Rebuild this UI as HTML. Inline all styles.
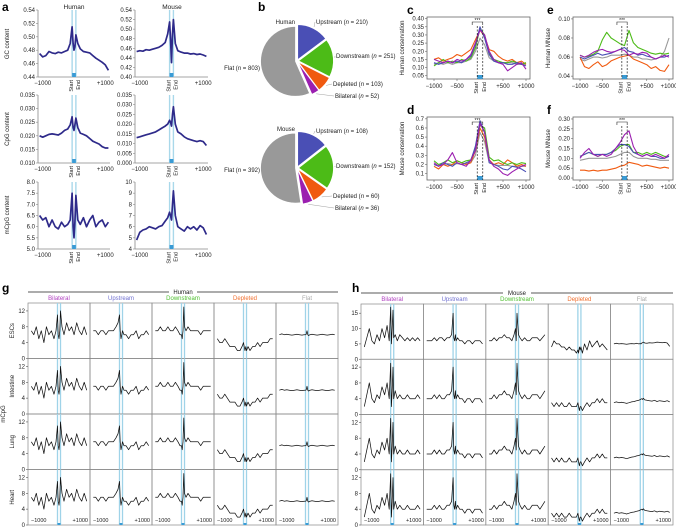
<!DOCTYPE html>
<html><head><meta charset="utf-8"><style>
html,body{margin:0;padding:0;background:#fff}
svg{display:block;font-family:"Liberation Sans",sans-serif}
</style></head><body>
<svg id="fig" width="676" height="527" viewBox="0 0 676 527" xmlns="http://www.w3.org/2000/svg"></svg>
<script>
// ---------- DATA ----------
const xsA = [-1100,-1000,-900,-800,-700,-600,-500,-400,-300,-200,-120,-60,-30,0,30,60,120,200,300,400,500,600,700,800,900,1000,1100];
const gcHuman = [0.475,0.470,0.472,0.478,0.476,0.475,0.477,0.476,0.478,0.480,0.490,0.515,0.490,0.480,0.485,0.503,0.490,0.482,0.478,0.477,0.476,0.472,0.468,0.465,0.462,0.458,0.450];
const gcMouse = [0.453,0.455,0.454,0.457,0.456,0.458,0.460,0.462,0.466,0.472,0.490,0.515,0.480,0.430,0.490,0.520,0.470,0.455,0.452,0.450,0.450,0.448,0.449,0.447,0.448,0.446,0.443];
const cpgHuman = [0.020,0.0195,0.020,0.0205,0.0207,0.0205,0.0203,0.021,0.022,0.0225,0.024,0.027,0.023,0.022,0.024,0.0265,0.023,0.021,0.0205,0.020,0.019,0.018,0.0175,0.017,0.016,0.0155,0.0155];
const cpgMouse = [0.013,0.0135,0.014,0.0145,0.015,0.0155,0.016,0.017,0.018,0.019,0.020,0.022,0.021,0.019,0.025,0.029,0.020,0.016,0.015,0.0135,0.0125,0.012,0.0115,0.011,0.0115,0.011,0.009];
const mcpgHuman = [6.5,6.3,6.4,6.0,6.3,6.0,5.9,6.2,6.0,6.1,6.3,7.5,6.0,5.5,6.2,7.4,6.3,6.1,6.4,6.0,6.3,6.5,6.0,6.2,6.3,6.0,6.2];
const mcpgMouse = [4.8,5.5,5.7,5.8,6.0,5.9,5.8,6.0,6.1,6.5,6.8,7.3,7.0,6.6,8.0,9.2,7.0,6.0,5.8,5.6,6.0,5.8,6.0,5.7,6.1,5.9,5.3];

const classes = ['Bilateral','Upstream','Downstream','Depleted','Flat'];
const classColors = ['#9b1fb0','#4a4fb5','#4cbb17','#f05a10','#999999'];
const titleColors = ['#b040c0','#7070d0','#50c030','#f07030','#aaaaaa'];
const pieHuman = [210,251,103,52,803];
const pieMouse = [108,152,60,36,392];
const pieNames = ['Upstream','Downstream','Depleted','Bilateral','Flat'];
const pieColors = ['#4a4fb5','#4cbb17','#f05a10','#9b1fb0','#999999'];

const xsC = [-1000,-900,-800,-700,-600,-500,-400,-300,-200,-100,0,100,200,300,400,500,600,700,800,900,1000];
const consHuman = [
 [.15,.14,.13,.14,.13,.15,.14,.15,.18,.25,.33,.30,.20,.15,.13,.12,.08,.10,.12,.13,.09],
 [.13,.12,.13,.14,.13,.14,.13,.15,.17,.24,.35,.28,.18,.14,.13,.13,.12,.12,.13,.12,.11],
 [.11,.13,.15,.13,.14,.13,.15,.14,.16,.22,.34,.30,.19,.15,.14,.13,.13,.14,.13,.12,.13],
 [.15,.16,.14,.15,.16,.18,.17,.19,.21,.27,.33,.29,.21,.20,.17,.15,.14,.15,.13,.14,.12],
 [.12,.13,.12,.13,.12,.13,.13,.14,.15,.20,.28,.24,.16,.14,.13,.13,.13,.13,.12,.12,.12]];
const consMouse = [
 [.22,.18,.20,.25,.33,.22,.20,.18,.25,.35,.65,.55,.25,.18,.15,.10,.08,.12,.15,.18,.20],
 [.20,.18,.22,.20,.18,.22,.20,.22,.24,.40,.68,.55,.22,.20,.18,.15,.14,.18,.17,.15,.12],
 [.24,.20,.22,.25,.22,.24,.22,.24,.25,.38,.63,.60,.28,.24,.25,.22,.20,.22,.20,.22,.21],
 [.18,.15,.20,.18,.20,.24,.22,.20,.22,.35,.60,.50,.25,.20,.22,.20,.25,.22,.18,.20,.18],
 [.20,.19,.20,.21,.20,.21,.20,.21,.22,.30,.55,.45,.22,.20,.19,.19,.19,.18,.18,.18,.18]];
const mnaseHuman = [
 [.062,.060,.062,.065,.067,.068,.066,.065,.066,.068,.067,.062,.064,.063,.065,.064,.060,.058,.060,.062,.060],
 [.060,.058,.060,.062,.064,.062,.063,.064,.066,.068,.070,.066,.065,.062,.063,.061,.060,.058,.060,.060,.062],
 [.062,.060,.061,.063,.066,.078,.086,.080,.077,.074,.072,.088,.075,.070,.068,.066,.064,.063,.064,.063,.064],
 [.060,.050,.048,.052,.055,.050,.052,.056,.058,.060,.061,.062,.058,.056,.054,.052,.048,.050,.046,.045,.052],
 [.058,.056,.058,.060,.060,.059,.060,.062,.062,.062,.063,.062,.060,.060,.058,.058,.057,.058,.060,.066,.080]];
const mnaseMouse = [
 [.10,.13,.15,.12,.11,.12,.11,.12,.15,.18,.22,.24,.16,.12,.11,.12,.11,.12,.11,.10,.12],
 [.11,.12,.13,.12,.12,.12,.12,.13,.15,.17,.17,.16,.13,.12,.11,.12,.11,.11,.10,.10,.11],
 [.11,.12,.13,.12,.11,.12,.12,.13,.14,.16,.17,.17,.13,.13,.12,.13,.12,.13,.12,.11,.11],
 [.04,.04,.035,.04,.035,.04,.04,.045,.05,.06,.065,.08,.075,.07,.06,.065,.06,.055,.05,.055,.05],
 [.09,.095,.10,.10,.10,.10,.10,.105,.11,.12,.13,.13,.11,.10,.10,.10,.095,.095,.09,.09,.09]];

const gHuman = [
 [7,6,8,5,7,4,8,6,7,5,7,11,6,5,7,12,8,6,9,7,8,6,9,7,6,8,6],
 [7,7,6,7,7,6,7,7,7,8,9,11,7,5,6,7,6,6,5,6,6,7,5,6,6,7,6],
 [7,7,8,7,7,8,7,7,8,7,6,6,5,7,13,8,7,8,7,7,7,7,6,7,7,7,7],
 [5,4,4,5,4,3,3,3,2,2,3,4,3,2,3,2,3,2,3,3,4,3,4,4,4,5,5],
 [6,6.2,6,6.1,6,5.9,6,6.1,6,5.9,6,6,6.1,7,6,5.8,6,6.1,6,5.9,6,6.1,6,5.9,6,6.1,6]];
const hMouseRow1 = [
 [4,7,10,6,5,8,6,10,7,11,6,17,5,10,16,7,8,6,8,7,6,7,6,7,6,7,6],
 [6,6,6,7,6,7,7,6,7,7,8,15,7,6,8,6,7,6,6,5,6,6,5,6,6,6,5],
 [6,6,7,6,7,7,8,7,7,6,8,10,6,15,11,8,7,6,7,6,6,7,7,7,6,7,8],
 [4,6,5,5,4,4,3,4,3,3,2,3,2,4,3,4,2,5,3,6,4,5,6,4,5,4,3],
 [5,5.2,5,5.1,5,4.9,5,5.1,5,5.2,5,5.1,5,5.3,5.4,5.6,5.3,5.2,5.4,5.3,5.4,5.6,5.5,5.4,5.5,5.3,4.2]];
const hMouseRows = [
 [2,5,8,4,3,5,4,7,5,8,4,13,2,6,12,4,6,4,5,4,4,5,4,4,4,5,4],
 [4,4,4,5,4,5,4,4,5,5,6,12,5,4,6,4,5,4,4,3,4,4,3,4,4,4,3],
 [4,4,5,4,5,5,6,5,5,4,6,8,5,13,9,6,5,4,5,4,4,5,5,5,4,5,6],
 [3,2,3,2,3,2,2,3,2,2,2,3,2,1,2,2,1,2,3,2,3,3,4,3,4,3,3],
 [3,3.2,3,3.1,3,2.8,3,3.2,3.3,3.5,3.6,3.8,3.9,4,3.8,4.1,3.7,3.6,3.5,3.4,3.6,3.3,3.5,3.4,3.3,3.5,3.2]];
const tissues = ['ESCs','Intestine','Lung','Heart'];

// ---------- HELPERS ----------
const NS='http://www.w3.org/2000/svg';
const svg=document.getElementById('fig');
function mk(tag,attrs,parent){const e=document.createElementNS(NS,tag);for(const k in attrs)e.setAttribute(k,attrs[k]);(parent||svg).appendChild(e);return e;}
function txt(x,y,s,size,name,extra){
  const t=mk('text',Object.assign({x:x,y:y,'font-size':size,fill:'#222'},extra||{}));
  t.textContent=s;
  
  
  return t;
}
function ln(x1,y1,x2,y2,stroke,w,name,extra){
  const l=mk('line',Object.assign({x1:x1,y1:y1,x2:x2,y2:y2,stroke:stroke,'stroke-width':w},extra||{}));
  
  
  return l;
}
function series(xs,vals,sx,sy,color,w,name){
  let d='';
  for(let i=0;i<vals.length;i++){d+=(i?'L':'M')+sx(xs[i]).toFixed(1)+','+sy(vals[i]).toFixed(1);}
  const p=mk('path',{d:d,fill:'none',stroke:color,'stroke-width':w,'stroke-linejoin':'round'});
  
  
  return p;
}
function scale(d0,d1,r0,r1){return v=>r0+(v-d0)/(d1-d0)*(r1-r0);}

// ---------- PANEL LETTERS ----------
[['a',2,11],['b',258,11],['c',407,14],['e',547,14],['d',407,114],['f',547,114],['g',2,292],['h',352,292]].forEach(p=>{
  txt(p[1],p[2],p[0],12,'panel-letter-'+p[0],{'font-weight':'bold',fill:'#000'});
});

// ---------- PANEL A ----------
function plotA(x0,y0,w,h,ymin,ymax,ticks,dec,vals,name){
  const sx=scale(-1150,1150,x0,x0+w), sy=scale(ymin,ymax,y0+h,y0);
  ln(x0,y0,x0,y0+h,'#888',0.8,name+'-y-axis');
  ln(x0,y0+h,x0+w,y0+h,'#888',0.8,name+'-x-axis');
  ticks.forEach(t=>{ln(x0-2,sy(t),x0,sy(t),'#888',0.6,name+'-y-tick');txt(x0-3,sy(t)+2,t.toFixed(dec),6,name+'-y-tick-label',{'text-anchor':'end'});});
  ln(sx(-60),y0,sx(-60),y0+h,'#a9d8ea',1.4,name+'-start-line');
  ln(sx(60),y0,sx(60),y0+h,'#a9d8ea',1.4,name+'-end-line');
  const r=mk('rect',{x:sx(-60),y:y0+h-4,width:sx(60)-sx(-60),height:4,fill:'#3a9bd5'});
  
  
  txt(sx(-1000),y0+h+8,'\u22121000',6,name+'-x-tick-label',{'text-anchor':'middle'});
  txt(sx(1000),y0+h+8,'+1000',6,name+'-x-tick-label',{'text-anchor':'middle'});
  txt(sx(-30),y0+h+3,'Start',5.5,name+'-start-label',{'text-anchor':'end',transform:`rotate(-90 ${sx(-30)} ${y0+h+3})`});
  txt(sx(30)+5,y0+h+3,'End',5.5,name+'-end-label',{'text-anchor':'end',transform:`rotate(-90 ${sx(30)+5} ${y0+h+3})`});
  series(xsA,vals,sx,sy,'#2e2a8a',1.7,name+'-line');
}
txt(74,9,'Human',6.5,'human-title-a',{'text-anchor':'middle'});
txt(172,9,'Mouse',6.5,'mouse-title-a',{'text-anchor':'middle'});
plotA(38,10,72,67,0.44,0.54,[0.44,0.46,0.48,0.50,0.52,0.54],2,gcHuman,'gc-human');
plotA(135,10,73,67,0.40,0.54,[0.40,0.42,0.44,0.46,0.48,0.50,0.52,0.54],2,gcMouse,'gc-mouse');
plotA(38,95,72,68,0.010,0.035,[0.010,0.015,0.020,0.025,0.030,0.035],3,cpgHuman,'cpg-human');
plotA(135,95,73,68,0,0.035,[0,0.005,0.010,0.015,0.020,0.025,0.030,0.035],3,cpgMouse,'cpg-mouse');
plotA(38,182,72,67,5,8,[5,5.5,6,6.5,7,7.5,8],1,mcpgHuman,'mcpg-human');
plotA(135,182,73,67,4,10,[4,5,6,7,8,9,10],0,mcpgMouse,'mcpg-mouse');
txt(9,44,'GC content',6,'gc-axis-title',{'text-anchor':'middle',transform:'rotate(-90 9 44)'});
txt(9,129,'CpG content',6,'cpg-axis-title',{'text-anchor':'middle',transform:'rotate(-90 9 129)'});
txt(9,215,'mCpG content',6,'mcpg-axis-title',{'text-anchor':'middle',transform:'rotate(-90 9 215)'});

// ---------- PANEL B PIES ----------
function pie(cx,cy,r,vals,title,labelYs,flatY){
  const tot=vals.reduce((a,b)=>a+b,0);let a0=-Math.PI/2;
  vals.forEach((v,i)=>{
    const a1=a0+v/tot*2*Math.PI, am=(a0+a1)/2, ox=Math.cos(am)*1.5, oy=Math.sin(am)*1.5;
    const x0=cx+ox+r*Math.cos(a0),y0=cy+oy+r*Math.sin(a0),x1=cx+ox+r*Math.cos(a1),y1=cy+oy+r*Math.sin(a1);
    const p=mk('path',{d:`M${cx+ox},${cy+oy}L${x0},${y0}A${r},${r} 0 ${a1-a0>Math.PI?1:0} 1 ${x1},${y1}Z`,fill:pieColors[i],stroke:'#fff','stroke-width':0.8});
    
    
    if(i<4){
      const lx=cx+(r+3)*Math.cos(am), ly=cy+(r+3)*Math.sin(am);
      const tx=i===0?cx+18:(i===1?cx+r+3:cx+r-4+i*2);
      ln(lx,ly,tx,labelYs[i]-2,'#888',0.4,'pie-leader');
      const t=txt(tx+1,labelYs[i],pieNames[i]+' (',6,title.toLowerCase()+'-pie-label-'+pieNames[i].toLowerCase());
      const ts=mk('tspan',{'font-style':'italic'},t);ts.textContent='n';
      const ts2=mk('tspan',{},t);ts2.textContent=' = '+v+')';
    }else{
      const t=txt(cx-r-2,flatY,'Flat (',6,title.toLowerCase()+'-pie-label-flat',{'text-anchor':'end'});
      const ts=mk('tspan',{'font-style':'italic'},t);ts.textContent='n';
      const ts2=mk('tspan',{},t);ts2.textContent=' = '+v+')';
    }
    a0=a1;
  });
  txt(cx-2,cy-r-2,title,6,title.toLowerCase()+'-pie-title',{'text-anchor':'end'});
}
pie(297,61,35,pieHuman,'Human',[24,58,86,98],70);
pie(297,168,35,pieMouse,'Mouse',[133,168,198,210],172);

// ---------- PANELS C-F ----------
function plotC(x0,y0,w,h,ymin,ymax,ticks,dec,data,name,ytitle){
  const sx=scale(-1000,1000,x0+7,x0+w-4), sy=scale(ymin,ymax,y0+h,y0);
  const b=mk('rect',{x:x0,y:y0,width:w,height:h,fill:'none',stroke:'#666','stroke-width':0.8});
  
  
  ticks.forEach(t=>{ln(x0-2,sy(t),x0,sy(t),'#666',0.6,name+'-y-tick');txt(x0-3,sy(t)+2,t.toFixed(dec),6,name+'-y-tick-label',{'text-anchor':'end'});});
  [[-1000,'\u22121000'],[-500,'\u2212500'],[500,'+500'],[1000,'+1000']].forEach(t=>{ln(sx(t[0]),y0+h,sx(t[0]),y0+h+2,'#666',0.6,name+'-x-tick');txt(sx(t[0]),y0+h+9,t[1],6,name+'-x-tick-label',{'text-anchor':'middle'});});
  const r=mk('rect',{x:sx(-60),y:y0+h-4,width:sx(60)-sx(-60),height:4,fill:'#3a9bd5'});
  
  
  [4,3,2,1,0].forEach(i=>series(xsC,data[i],sx,sy,classColors[i],1.1,name+'-'+classes[i].toLowerCase()+'-line'));
  ln(sx(-60),y0+9,sx(-60),y0+h,'#222',0.7,name+'-start-dash',{'stroke-dasharray':'2,1.5'});
  ln(sx(60),y0+9,sx(60),y0+h,'#222',0.7,name+'-end-dash',{'stroke-dasharray':'2,1.5'});
  const bx0=sx(-170),bx1=sx(60);
  const br=mk('path',{d:`M${bx0},${y0+8}V${y0+5}H${bx1}V${y0+8}`,fill:'none',stroke:'#222','stroke-width':0.6});
  
  
  txt((bx0+bx1)/2,y0+5,'***',5,name+'-significance-stars',{'text-anchor':'middle'});
  txt(sx(-40),y0+h+3,'Start',5.5,name+'-start-label',{'text-anchor':'end',transform:`rotate(-90 ${sx(-40)} ${y0+h+3})`});
  txt(sx(40)+4,y0+h+3,'End',5.5,name+'-end-label',{'text-anchor':'end',transform:`rotate(-90 ${sx(40)+4} ${y0+h+3})`});
  const tx=x0-23,ty=y0+h/2;
  txt(tx,ty,ytitle,6,name+'-y-axis-title',{'text-anchor':'middle',transform:`rotate(-90 ${tx} ${ty})`});
}
plotC(427,17,103,62,0.03,0.41,[0.05,0.10,0.15,0.20,0.25,0.30,0.35,0.40],2,consHuman,'human-conservation','Human conservation');
plotC(427,117,103,63,0.03,0.72,[0.1,0.2,0.3,0.4,0.5,0.6,0.7],1,consMouse,'mouse-conservation','Mouse conservation');
plotC(573,17,100,62,0.037,0.102,[0.04,0.06,0.08,0.10],2,mnaseHuman,'human-mnase','Human MNase');
plotC(573,117,100,63,-0.01,0.31,[0.00,0.05,0.10,0.15,0.20,0.25,0.30],2,mnaseMouse,'mouse-mnase','Mouse MNase');

// ---------- PANELS G / H ----------
function grid(x0,x1,y0,y1,species,rowData,ymaxes,tickSets,showRowLabels,name){
  const cw=(x1-x0)/5, rh=(y1-y0)/4;
  const mid=(x0+x1)/2;
  ln(x0,y0-11,mid-14,y0-11,'#222',0.8,name+'-header-line-left');
  ln(mid+14,y0-11,x1,y0-11,'#222',0.8,name+'-header-line-right');
  txt(mid,y0-9,species,6,name+'-species-title',{'text-anchor':'middle'});
  for(let c=0;c<5;c++){
    txt(x0+cw*c+cw/2,y0-3,classes[c],6,name+'-column-title-'+classes[c].toLowerCase(),{'text-anchor':'middle',fill:titleColors[c]});
    for(let r=0;r<4;r++){
      const cx0=x0+cw*c, cy0=y0+rh*r;
      const sx=scale(-1150,1150,cx0+2,cx0+cw-2), sy=scale(0,ymaxes[r],cy0+rh,cy0);
      const cell=mk('rect',{x:cx0,y:cy0,width:cw,height:rh,fill:'none',stroke:'#888','stroke-width':0.7});
      
      
      ln(sx(-60),cy0,sx(-60),cy0+rh,'#9fd3e8',1.3,name+'-start-line');
      ln(sx(60),cy0,sx(60),cy0+rh,'#9fd3e8',1.3,name+'-end-line');
      series(xsA,rowData(r)[c],sx,sy,'#111',0.75,name+'-profile-'+classes[c].toLowerCase()+'-'+tissues[r].toLowerCase());
      if(c===0){
        tickSets[r].forEach(t=>{ln(cx0-2,sy(t),cx0,sy(t),'#555',0.6,name+'-y-tick');txt(cx0-3,sy(t)+2,String(t),6,name+'-y-tick-label',{'text-anchor':'end'});});
        if(showRowLabels){const ty=cy0+rh/2;txt(14,ty,tissues[r],6,name+'-row-label-'+tissues[r].toLowerCase(),{'text-anchor':'middle',transform:`rotate(-90 14 ${ty})`});}
      }
      if(r===3){
        const m=mk('rect',{x:sx(-60),y:cy0+rh-2,width:sx(60)-sx(-60),height:2,fill:'#3a9bd5'});
        
        
        txt(cx0+3,cy0+rh-3,'\u22121000',5.5,name+'-x-tick-label',{});
        txt(cx0+cw-2,cy0+rh-3,'+1000',5.5,name+'-x-tick-label',{'text-anchor':'end'});
      }
    }
  }
}
grid(28,338,303,525,'Human',r=>gHuman,[14,14,14,14],[[0,4,8,12],[0,4,8,12],[0,4,8,12],[0,4,8,12]],true,'human-grid');
txt(5,414,'mCpG',6,'mcpg-grid-axis-title',{'text-anchor':'middle',transform:'rotate(-90 5 414)'});
grid(361,673,304,525,'Mouse',r=>r===0?hMouseRow1:hMouseRows,[18,14,14,14],[[0,5,10,15],[0,4,8,12],[0,4,8,12],[0,4,8,12]],false,'mouse-grid');
</script>
</body></html>
